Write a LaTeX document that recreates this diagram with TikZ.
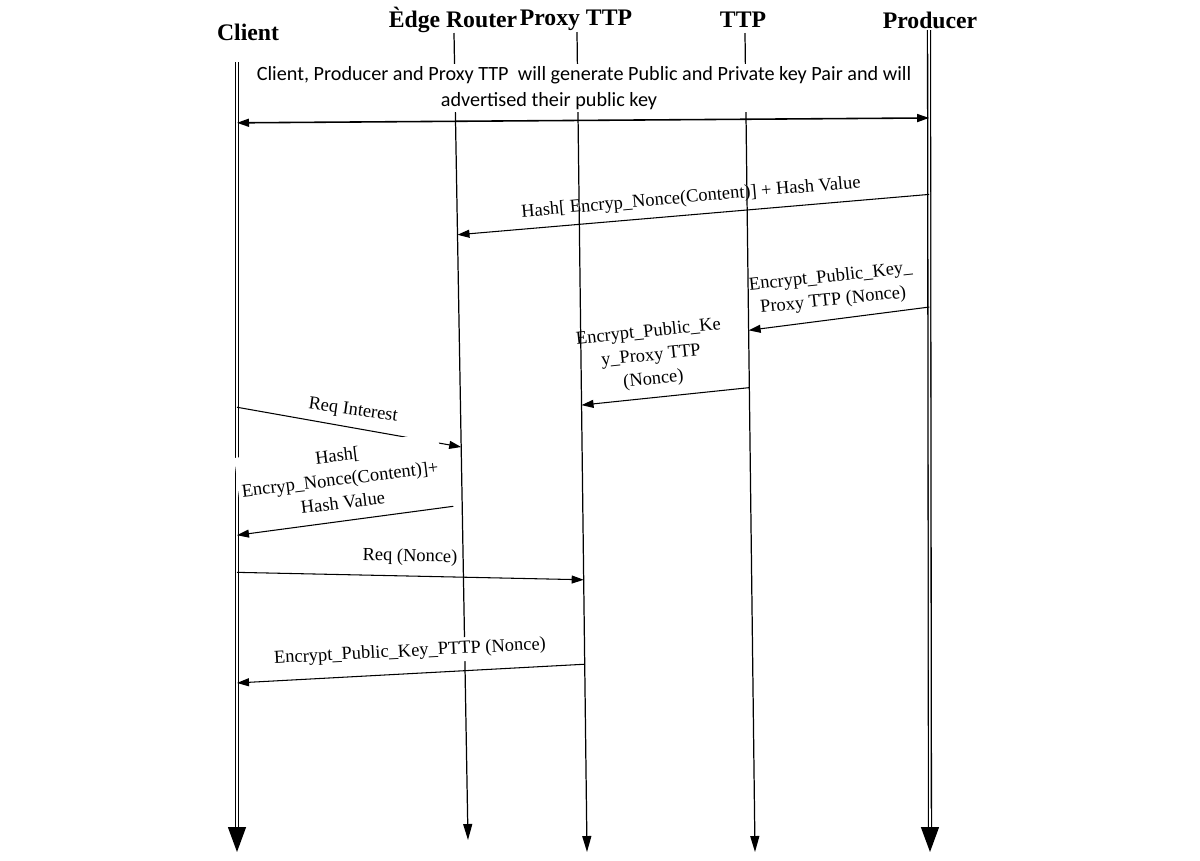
\documentclass[tikz,border=0pt]{standalone}
\usepackage{fontspec}
\setmainfont{Liberation Serif}
\newfontfamily\calibfont{Carlito}
\usetikzlibrary{arrows.meta,calc}

\begin{document}
\begin{tikzpicture}[x=0.02cm, y=-0.02cm,
  head/.style={font=\fontsize{13.5}{16}\selectfont\bfseries, inner sep=1pt},
  life/.style={line width=0.7pt, -{Triangle[length=0.32cm, width=0.18cm]}},
  dlife/.style={double, line width=0.75pt, double distance=0.9pt, -{Triangle[length=0.5cm, width=0.36cm]}},
  msg/.style={line width=0.6pt, -{Triangle[length=0.24cm, width=0.16cm]}},
  lbl/.style={font=\fontsize{10.5}{13.5}\selectfont, align=center, inner sep=2pt}]
  \useasboundingbox (0,0) rectangle (1200,860);
  % actors
  \node[head] (client) at (248,32) {Client};
  \node[head] (edge) at (453,20) {Èdge Router};
  \node[head] (proxy) at (576,20) {Proxy TTP};
  \node[head] (ttp) at (743,20) {TTP};
  \node[head] (prod) at (930,20) {Producer};
  % lifelines
  \coordinate (ct) at (237,62);  \coordinate (cb) at (237,852);
  \coordinate (et) at (454,33);  \coordinate (eb) at (468,840);
  \coordinate (xt) at (577,32);  \coordinate (xb) at (587,852);
  \coordinate (tt) at (745,33);  \coordinate (tb) at (755,852);
  \coordinate (pt) at (929,30);  \coordinate (pb) at (930,852);
  \draw[dlife] (ct) -- (cb);
  \draw[dlife] (pt) -- (pb);
  \foreach \a/\b in {et/eb, xt/xb, tt/tb} {
    \draw[life] (\a) -- (\b);
  }
  % messages
  \draw[msg, {Triangle[length=0.24cm, width=0.16cm]}-{Triangle[length=0.24cm, width=0.16cm]}, line width=0.9pt]
    ($(ct)!0.077!(cb)$) -- ($(pt)!0.107!(pb)$);
  \draw[msg] ($(pt)!0.200!(pb)$) -- ($(et)!0.250!(eb)$);
  \draw[msg] ($(pt)!0.337!(pb)$) -- ($(tt)!0.363!(tb)$);
  \draw[msg] ($(tt)!0.433!(tb)$) -- ($(xt)!0.455!(xb)$);
  \draw[msg] ($(ct)!0.437!(cb)$) -- ($(et)!0.513!(eb)$);
  \draw[msg, shorten <=0.18cm] ($(et)!0.585!(eb)$) -- ($(ct)!0.599!(cb)$);
  \draw[msg] ($(ct)!0.646!(cb)$) -- ($(xt)!0.668!(xb)$);
  \draw[msg] ($(xt)!0.771!(xb)$) -- ($(ct)!0.786!(cb)$);
  % labels
  \node[fill=white, inner sep=1.5pt, align=center, font=\calibfont\fontsize{11.5}{14.8}\selectfont] (note) at (584,88)
    {Client, Producer and Proxy TTP\ \ will generate Public and Private key Pair and will\\advertised their public key\hspace*{1.4cm}};
  \node[lbl, rotate=5] (lhash) at (691,198) {Hash[ Encryp\_Nonce(Content)] + Hash Value};
  \node[lbl, rotate=6] (lkey) at (832,289) {Encrypt\_Public\_Key\_\\Proxy TTP (Nonce)};
  \node[lbl, rotate=6] (lkey2) at (651,356) {Encrypt\_Public\_Ke\\y\_Proxy TTP\\(Nonce)};
  \node[lbl, rotate=-8] (lreq) at (353,411) {Req Interest};
  \node[lbl, rotate=7, fill=white] (lhash2) at (340,479) {Hash[\\Encryp\_Nonce(Content)]+\\Hash Value};
  \node[lbl, rotate=-1] (lnonce) at (410,557) {Req (Nonce)};
  \node[lbl, rotate=3, fill=white] (lpttp) at (410,652) {Encrypt\_Public\_Key\_PTTP (Nonce)};
\end{tikzpicture}
\end{document}
